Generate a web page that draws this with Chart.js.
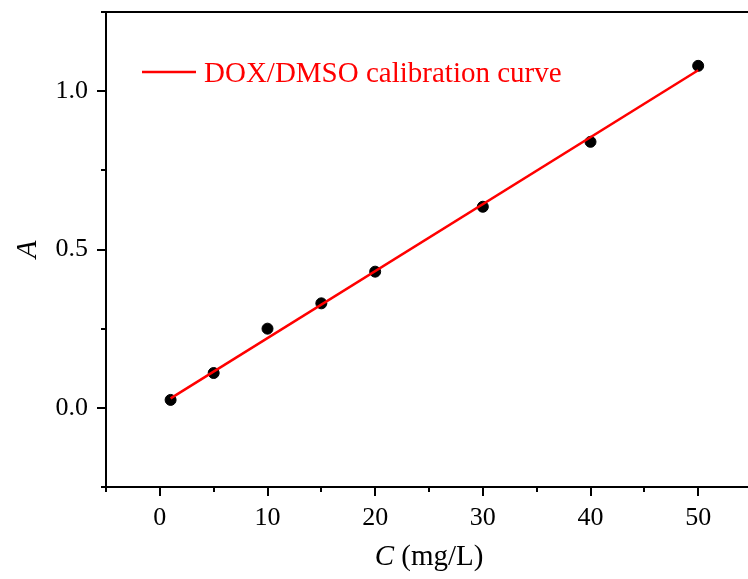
<!DOCTYPE html>
<html>
<head>
<meta charset="utf-8">
<script src="https://cdn.jsdelivr.net/npm/chart.js@4/dist/chart.umd.min.js"></script>
<style>
    html, body { margin: 0; padding: 0; background: #fff; overflow: hidden; }
    #chart { display: block; }
</style>
</head>
<body>
<canvas id="chart" width="760" height="579"></canvas>
<script>
// measured points
var concentration = [1, 5, 10, 15, 20, 30, 40, 50];
var absorbance = [0.025, 0.11, 0.25, 0.33, 0.43, 0.635, 0.84, 1.08];
// calibration line ends
var fitC = [1, 50];
var fitA = [0.03, 1.066];
var xMajorTicks = [0, 10, 20, 30, 40, 50];
var yMajorTicks = [0, 0.5, 1.0];
var legendLabel = 'DOX/DMSO calibration curve';

var serif = '"Liberation Serif", "Times New Roman", serif';

function isMajor(list, v) {
    return list.some(function (m) { return Math.abs(m - v) < 1e-6; });
}

var framePlugin = {
    id: 'frame',
    beforeDraw: function (chart) {
        var ctx = chart.ctx;
        ctx.save();
        ctx.fillStyle = '#fff';
        ctx.fillRect(0, 0, chart.width, chart.height);
        ctx.restore();
    },
    afterDraw: function (chart) {
        var ctx = chart.ctx;
        var area = chart.chartArea;
        var xs = chart.scales.x;
        var ys = chart.scales.y;
        ctx.save();
        ctx.strokeStyle = '#000';
        ctx.lineWidth = 2;
        // frame: right side falls outside the window in the original
        ctx.beginPath();
        ctx.moveTo(chart.width, area.top);
        ctx.lineTo(area.left, area.top);
        ctx.lineTo(area.left, area.bottom);
        ctx.lineTo(chart.width, area.bottom);
        ctx.stroke();

        // tick marks, outward
        ctx.beginPath();
        xs.ticks.forEach(function (t) {
            var px = Math.round(xs.getPixelForValue(t.value));
            var len = isMajor(xMajorTicks, t.value) ? 9 : 5;
            ctx.moveTo(px, area.bottom);
            ctx.lineTo(px, area.bottom + len);
        });
        ys.ticks.forEach(function (t) {
            var py = Math.round(ys.getPixelForValue(t.value));
            var len = isMajor(yMajorTicks, t.value) ? 9 : 5;
            ctx.moveTo(area.left, py);
            ctx.lineTo(area.left - len, py);
        });
        ctx.stroke();

        // legend
        ctx.strokeStyle = '#ff0000';
        ctx.lineWidth = 2.5;
        ctx.beginPath();
        ctx.moveTo(142, 72);
        ctx.lineTo(196, 72);
        ctx.stroke();
        ctx.fillStyle = '#ff0000';
        ctx.font = '29px ' + serif;
        ctx.textBaseline = 'alphabetic';
        ctx.textAlign = 'left';
        ctx.fillText(legendLabel, 204, 82);

        // axis titles
        ctx.fillStyle = '#000';
        ctx.font = 'italic 29px ' + serif;
        var cW = ctx.measureText('C').width;
        ctx.font = '29px ' + serif;
        var restW = ctx.measureText(' (mg/L)').width;
        var startX = (area.left + 752) / 2 - (cW + restW) / 2;
        ctx.font = 'italic 29px ' + serif;
        ctx.fillText('C', startX, 565);
        ctx.font = '29px ' + serif;
        ctx.fillText(' (mg/L)', startX + cW, 565);

        ctx.translate(36, (area.top + area.bottom) / 2);
        ctx.rotate(-Math.PI / 2);
        ctx.font = 'italic 29px ' + serif;
        ctx.textAlign = 'center';
        ctx.fillText('A', 0, 0);
        ctx.restore();
    }
};

new Chart(document.getElementById('chart'), {
    type: 'scatter',
    data: {
        datasets: [{
            type: 'line',
            label: legendLabel,
            data: fitC.map(function (c, i) { return { x: c, y: fitA[i] }; }),
            borderColor: '#ff0000',
            borderWidth: 2.5,
            pointRadius: 0,
            fill: false,
            order: 0
        }, {
            label: 'data',
            data: concentration.map(function (c, i) { return { x: c, y: absorbance[i] }; }),
            backgroundColor: '#000',
            borderColor: '#000',
            pointRadius: 5.5,
            pointHoverRadius: 5.5,
            order: 1
        }]
    },
    options: {
        responsive: false,
        animation: false,
        devicePixelRatio: 1,
        layout: { padding: { left: 0, top: 12, right: 8, bottom: 0 } },
        plugins: {
            legend: { display: false },
            tooltip: { enabled: false }
        },
        scales: {
            x: {
                type: 'linear',
                min: -5,
                max: 55,
                afterFit: function (scale) {
                    scale.height = 92;
                    scale.paddingLeft = 0;
                    scale.paddingRight = 0;
                },
                grid: { drawOnChartArea: false, drawTicks: false },
                border: { display: false },
                ticks: {
                    stepSize: 5,
                    padding: 16,
                    color: '#000',
                    font: { family: serif, size: 26 },
                    maxRotation: 0,
                    autoSkip: false,
                    callback: function (v) { return isMajor(xMajorTicks, v) ? String(v) : ''; }
                }
            },
            y: {
                type: 'linear',
                min: -0.25,
                max: 1.25,
                afterFit: function (scale) {
                    scale.width = 106;
                    scale.paddingTop = 0;
                    scale.paddingBottom = 0;
                },
                grid: { drawOnChartArea: false, drawTicks: false },
                border: { display: false },
                ticks: {
                    stepSize: 0.25,
                    padding: 18,
                    color: '#000',
                    font: { family: serif, size: 26 },
                    autoSkip: false,
                    callback: function (v) { return isMajor(yMajorTicks, v) ? v.toFixed(1) : ''; }
                }
            }
        }
    },
    plugins: [framePlugin]
});
</script>
</body>
</html>
